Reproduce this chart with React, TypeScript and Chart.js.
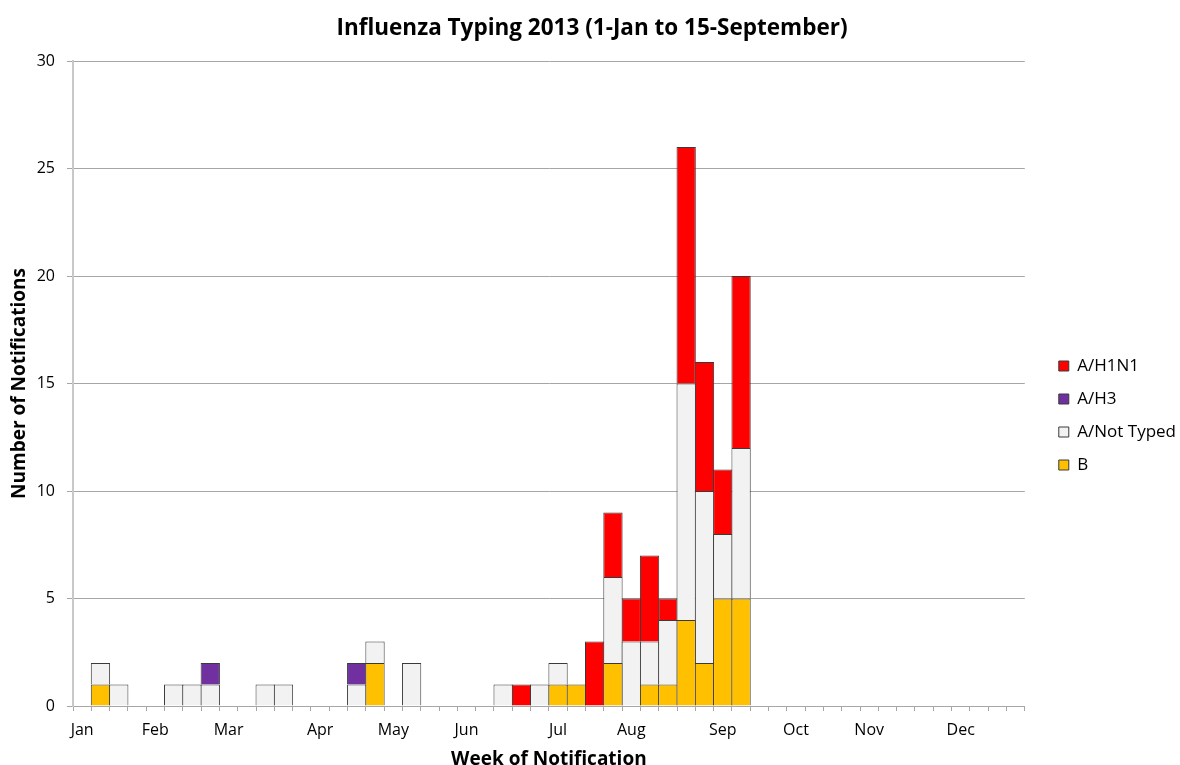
import React, { useEffect, useRef } from "react";
import { Chart, registerables } from "chart.js";

Chart.register(...registerables);

// 52 weekly categories; month names shown under the week where each month starts
const monthNames = ["Jan", "Feb", "Mar", "Apr", "May", "Jun", "Jul", "Aug", "Sep", "Oct", "Nov", "Dec"];
const monthStartWeek = [0, 4, 8, 13, 17, 21, 26, 30, 35, 39, 43, 48];
const weekCount = 52;

// Notifications per week (index = week of year, 0-based)
const seriesB = [
  null, 1, null, null, null, null, null, null, null, null, null, null, null,
  null, null, null, 2, null, null, null, null, null, null, null, null, null,
  1, 1, null, 2, null, 1, 1, 4, 2, 5, 5, null, null,
  null, null, null, null, null, null, null, null, null, null, null, null, null,
];
const seriesNotTyped = [
  null, 1, 1, null, null, 1, 1, 1, null, null, 1, 1, null,
  null, null, 1, 1, null, 2, null, null, null, null, 1, null, 1,
  1, null, null, 4, 3, 2, 3, 11, 8, 3, 7, null, null,
  null, null, null, null, null, null, null, null, null, null, null, null, null,
];
const seriesH3 = [
  null, null, null, null, null, null, null, 1, null, null, null, null, null,
  null, null, 1, null, null, null, null, null, null, null, null, null, null,
  null, null, null, null, null, null, null, null, null, null, null, null, null,
  null, null, null, null, null, null, null, null, null, null, null, null, null,
];
const seriesH1N1 = [
  null, null, null, null, null, null, null, null, null, null, null, null, null,
  null, null, null, null, null, null, null, null, null, null, null, 1, null,
  null, null, 3, 3, 2, 4, 1, 11, 6, 3, 8, null, null,
  null, null, null, null, null, null, null, null, null, null, null, null, null,
];

const yTicksMax = 30;
const yTicksStep = 5;

const FONT = "'Open Sans', Lato, sans-serif";

export default function App() {
  const canvasRef = useRef<HTMLCanvasElement | null>(null);

  useEffect(() => {
    if (!canvasRef.current) return;
    const labels: string[] = [];
    for (let i = 0; i < weekCount; i++) {
      const m = monthStartWeek.indexOf(i);
      labels.push(m >= 0 ? monthNames[m] : "");
    }
    const border = "#3a3a3a";
    const common = {
      borderColor: border,
      borderWidth: 1,
      borderSkipped: "start" as const,
      barPercentage: 1.055,
      categoryPercentage: 1,
      stack: "s",
    };

    const layoutTweak = {
      id: "layoutTweak",
      afterLayout(chart: any) {
        const lg = chart.legend;
        if (lg) {
          const dx = 18;
          const dy = 33;
          lg.left += dx;
          lg.right += dx;
          lg.top += dy;
          lg.bottom += dy;
        }
        const tb = chart.titleBlock;
        if (tb) {
          const tdx = 8;
          tb.left += tdx;
          tb.right += tdx;
        }
      },
    };

    const chart = new Chart(canvasRef.current, {
      type: "bar",
      data: {
        labels,
        datasets: [
          { label: "B", data: seriesB, backgroundColor: "#FFC000", ...common },
          { label: "A/Not Typed", data: seriesNotTyped, backgroundColor: "#F2F2F2", ...common },
          { label: "A/H3", data: seriesH3, backgroundColor: "#7030A0", ...common },
          { label: "A/H1N1", data: seriesH1N1, backgroundColor: "#FF0000", ...common },
        ],
      },
      options: {
        responsive: false,
        animation: false,
        layout: { padding: { left: 0, right: 12, top: 0, bottom: 0 } },
        plugins: {
          title: {
            display: true,
            text: "Influenza Typing 2013 (1-Jan to 15-September)",
            color: "#000",
            font: { family: FONT, size: 22.5, weight: "bold" },
            padding: { top: 15, bottom: 19 },
          },
          legend: {
            display: true,
            position: "right",
            reverse: true,
            labels: {
              color: "#000",
              font: { family: FONT, size: 17 },
              boxWidth: 10,
              boxHeight: 10,
              padding: 16,
            },
          },
          tooltip: { enabled: false },
        },
        scales: {
          x: {
            stacked: true,
            offset: true,
            grid: {
              display: true,
              offset: true,
              drawOnChartArea: false,
              drawTicks: true,
              tickLength: 5,
              color: "#a6a6a6",
            },
            border: { display: true, color: "#a6a6a6", width: 1 },
            ticks: {
              autoSkip: false,
              maxRotation: 0,
              minRotation: 0,
              padding: 10,
              color: "#000",
              font: { family: FONT, size: 16 },
            },
            title: {
              display: true,
              text: "Week of Notification",
              color: "#000",
              font: { family: FONT, size: 19, weight: "bold" },
              padding: { top: 0, bottom: -6 },
            },
            afterFit: (scale: any) => {
              scale.height = 59;
            },
          },
          y: {
            stacked: true,
            min: 0,
            max: yTicksMax,
            ticks: {
              stepSize: yTicksStep,
              padding: 12,
              color: "#000",
              font: { family: FONT, size: 16 },
            },
            grid: {
              color: "#a6a6a6",
              tickLength: 6,
              drawTicks: true,
            },
            border: { display: true, color: "#c8c8c8", width: 2 },
            title: {
              display: true,
              text: "Number of Notifications",
              color: "#000",
              font: { family: FONT, size: 19, weight: "bold" },
              padding: { top: 8, bottom: 0 },
            },
            afterFit: (scale: any) => {
              scale.width = 73;
            },
          },
        },
      },
      plugins: [layoutTweak],
    });
    return () => chart.destroy();
  }, []);

  return (
    <div style={{ position: "absolute", left: 0, top: 0, width: 1180, height: 765, background: "#fff" }}>
      <canvas ref={canvasRef} width={1180} height={765} />
    </div>
  );
}
